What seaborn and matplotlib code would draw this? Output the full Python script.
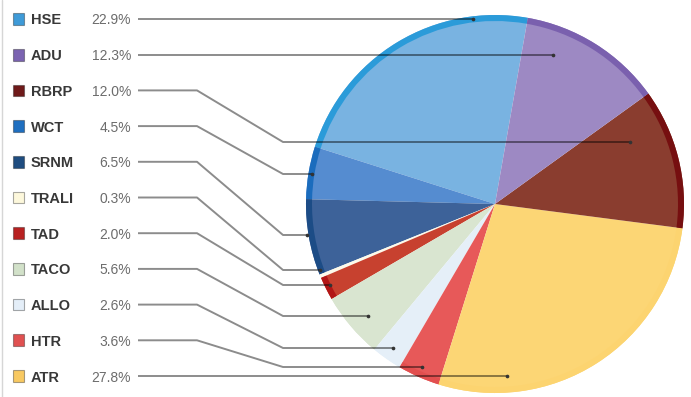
import matplotlib
matplotlib.use("Agg")
import matplotlib.pyplot as plt
import pandas as pd
import seaborn as sns

# Reaction categories, listed in key order, with their share of all reports (%)
categories = ["HSE", "ADU", "RBRP", "WCT", "SRNM", "TRALI", "TAD", "TACO", "ALLO", "HTR", "ATR"]
shares = [22.9, 12.3, 12.0, 4.5, 6.5, 0.3, 2.0, 5.6, 2.6, 3.6, 27.8]
# Order of the wedges, counter-clockwise from the start angle
pie_order = ["HSE", "WCT", "SRNM", "TRALI", "TAD", "TACO", "ALLO", "HTR", "ATR", "RBRP", "ADU"]
pct_labels = [f"{v:.1f}%" for v in shares]

# Colours: wedge fill, outer rim, key swatch
fill = {"HSE": "#79b3e1", "ADU": "#9d89c3", "RBRP": "#8a3d2f", "WCT": "#558cd0",
        "SRNM": "#3d6299", "TRALI": "#fdfaea", "TAD": "#c7412f", "TACO": "#d9e5d0",
        "ALLO": "#e5eff8", "HTR": "#e75959", "ATR": "#fcd675"}
rim = {"HSE": "#2b9bd9", "ADU": "#7a60ae", "RBRP": "#760f10", "WCT": "#1b6cbd",
       "SRNM": "#1c4c86", "TRALI": "#fdfaea", "TAD": "#b21616", "TACO": "#d9e5d0",
       "ALLO": "#e5eff8", "HTR": "#e24f4f", "ATR": "#fcd470"}
swatch = {"HSE": "#3f9bd8", "ADU": "#7b63b1", "RBRP": "#6f1a1a", "WCT": "#1f6fc0",
          "SRNM": "#1f4d80", "TRALI": "#fdf8dc", "TAD": "#b82121", "TACO": "#d2e1c9",
          "ALLO": "#e4eef8", "HTR": "#e05151", "ATR": "#f8c962"}

W, H = 691, 397
CX, CY, R = 495, 204, 189          # pie centre / radius in pixel units (y downward)
ROW0, ROW_STEP = 19, 35.7           # key row layout

# where each leader line lands on the pie (pixel units, y downward)
anchor = {"HSE": (473, 20), "ADU": (553, 56), "RBRP": (630, 142), "WCT": (312, 174),
          "SRNM": (307, 235), "TRALI": (320, 270), "TAD": (330, 285), "TACO": (368, 316),
          "ALLO": (393, 348), "HTR": (422, 367), "ATR": (507, 376)}
straight = {"HSE", "ADU", "ATR"}

sns.set_style("white")
plt.rcParams["font.family"] = ["Liberation Sans", "DejaVu Sans"]


def fy(y):
    """pixel row (downward) -> data y (upward)"""
    return H - y


fig = plt.figure(figsize=(W / 100, H / 100), dpi=100)
ax = fig.add_axes([0, 0, 1, 1])

share_of = dict(zip(categories, shares))
vals = [share_of[c] for c in pie_order]

# wedges
ax.pie(vals, colors=[fill[c] for c in pie_order], startangle=80, counterclock=True,
       radius=R, center=(CX, fy(CY)), wedgeprops=dict(linewidth=0))
# darker outer rim
ax.pie(vals, colors=[rim[c] for c in pie_order], startangle=80, counterclock=True,
       radius=R, center=(CX, fy(CY)), wedgeprops=dict(width=6, linewidth=0))

rows = [ROW0 + i * ROW_STEP for i in range(len(categories))]

# leader lines
for cat, y in zip(categories, rows):
    tx, ty = anchor[cat]
    if cat in straight:
        xs, ys = [138, tx], [y, y]
    else:
        xs, ys = [138, 197, 283, tx], [y, y, ty, ty]
    ax.plot(xs, [fy(v) for v in ys], color="black", alpha=0.45, lw=1.4,
            solid_capstyle="butt", zorder=5)

ends = pd.DataFrame({
    "x": [anchor[c][0] for c in categories],
    "y": [fy(rows[i]) if c in straight else fy(anchor[c][1]) for i, c in enumerate(categories)],
})
sns.scatterplot(data=ends, x="x", y="y", ax=ax, s=7, color="#333333",
                linewidth=0, zorder=6, legend=False)

# key swatches
key = pd.DataFrame({"x": [18.5] * len(categories), "y": [fy(r) for r in rows],
                    "cat": categories})
sns.scatterplot(data=key, x="x", y="y", hue="cat", palette=swatch, marker="s",
                s=70, edgecolor="#00000055", linewidth=0.8, ax=ax, legend=False, zorder=6)

for cat, pct, y in zip(categories, pct_labels, rows):
    ax.text(31, fy(y), cat, fontsize=10.5, fontweight="bold", color="#383838",
            ha="left", va="center_baseline")
    ax.text(131, fy(y), pct, fontsize=10, color="#6c6c6c",
            ha="right", va="center_baseline")

ax.plot([2.5, 2.5], [0, H], color="#d6d6d6", lw=1)

ax.set_xlim(0, W)
ax.set_ylim(0, H)
ax.set_aspect("equal")
ax.set_xlabel("")
ax.set_ylabel("")
ax.axis("off")

fig.savefig("out.png", dpi=100, facecolor="white")
